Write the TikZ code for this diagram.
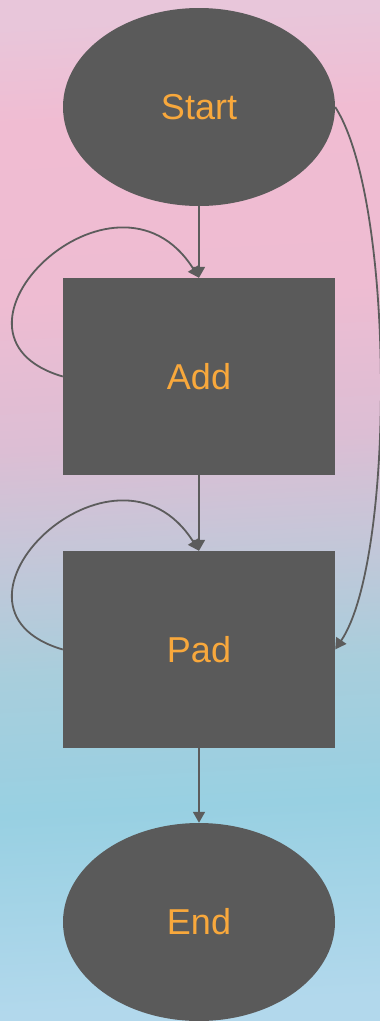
\documentclass[tikz,border=0pt]{standalone}
\usepackage{fontspec}
\setmainfont{Liberation Sans}
\usetikzlibrary{shapes.geometric,arrows.meta}

\definecolor{boxgray}{HTML}{5A5A5A}
\definecolor{linegray}{HTML}{5C5C5C}
\definecolor{labelorange}{HTML}{F8A83C}
\definecolor{bgA}{HTML}{B2D8EC}
\definecolor{bgB}{HTML}{98D0E2}
\definecolor{bgC}{HTML}{A8CEDC}
\definecolor{bgD}{HTML}{C6C6D8}
\definecolor{bgE}{HTML}{DCBED4}
\definecolor{bgF}{HTML}{EEBCD2}
\definecolor{bgG}{HTML}{F0BCD2}
\definecolor{bgH}{HTML}{E8C6DA}

% the path's box spans 25bp..75bp of the shading
\pgfdeclareverticalshading{flowbg}{100bp}{%
  color(0bp)=(bgA); color(25bp)=(bgA); color(35bp)=(bgB);
  color(42bp)=(bgC); color(48.5bp)=(bgD); color(53.5bp)=(bgE);
  color(61bp)=(bgF); color(70bp)=(bgG); color(75bp)=(bgH);
  color(100bp)=(bgH)}

\tikzset{
  terminal/.style={ellipse, fill=boxgray, minimum width=272pt,
    minimum height=198pt, inner sep=0pt, text=labelorange,
    font=\fontsize{36}{40}\selectfont},
  process/.style={rectangle, fill=boxgray, minimum width=272pt,
    minimum height=197pt, inner sep=0pt, text=labelorange,
    font=\fontsize{36}{40}\selectfont},
  link/.style={draw=linegray, line width=1.8pt,
    -{Triangle[length=11pt,width=12pt]}},
}

\begin{document}
\begin{tikzpicture}[x=1pt,y=1pt]
  % background
  \shade[shading=flowbg, shading angle=3] (0,0) rectangle (380,-1021);
  \useasboundingbox (0,0) rectangle (380,-1021);

  % nodes
  \node[terminal] (start) at (199,-107) {Start};
  \node[process]  (add)   at (199,-376.5) {Add};
  \node[process]  (pad)   at (199,-649.5) {Pad};
  \node[terminal] (end)   at (199,-922) {End};

  % straight flow
  \draw[link] (start.south) -- (add.north);
  \draw[link] (add.south) -- (pad.north);
  \draw[link] (pad.south) -- (end.north);

  % self loops
  \draw[link] (add.west) .. controls +(-143,42) and +(-84,133) .. (add.north);
  \draw[link] (pad.west) .. controls +(-143,42) and +(-84,133) .. (pad.north);

  % skip from start to pad
  \draw[link] (start.east) .. controls +(60,-93) and +(60,89) .. (pad.east);
\end{tikzpicture}
\end{document}
